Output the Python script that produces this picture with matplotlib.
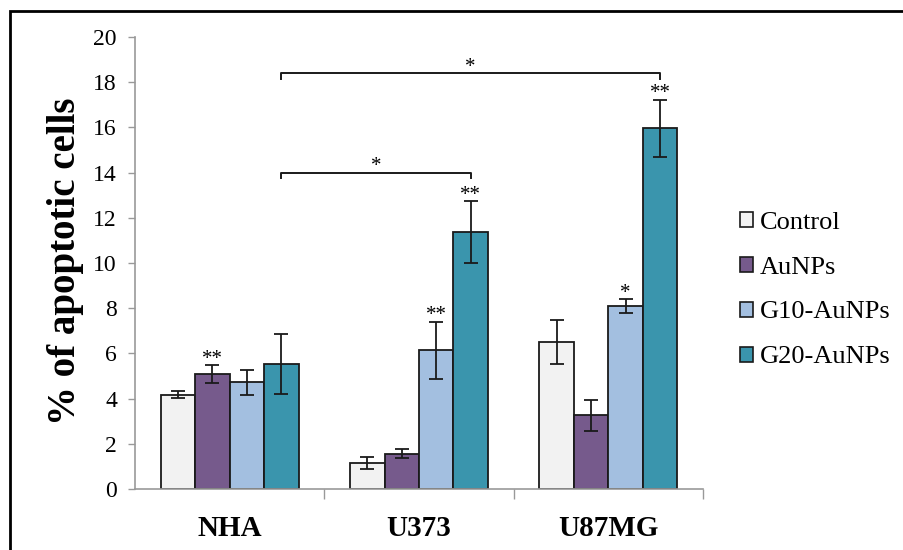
import numpy as np
import matplotlib
matplotlib.use("Agg")
import matplotlib.pyplot as plt
from matplotlib.patches import Patch, Rectangle

plt.rcParams['font.family'] = ['Liberation Serif', 'DejaVu Serif']

groups = ["NHA", "U373", "U87MG"]
series = ["Control", "AuNPs", "G10-AuNPs", "G20-AuNPs"]
colors = ["#f2f2f2", "#765a8c", "#a3bfe0", "#3a95ad"]

control = [4.17, 1.16, 6.50]
control_err = [0.15, 0.27, 0.96]
aunps = [5.07, 1.56, 3.27]
aunps_err = [0.40, 0.20, 0.69]
g10 = [4.73, 6.14, 8.10]
g10_err = [0.55, 1.27, 0.30]
g20 = [5.54, 11.36, 15.97]
g20_err = [1.33, 1.37, 1.26]

control_sig = ["", "", ""]
aunps_sig = ["**", "", ""]
g10_sig = ["", "**", "*"]
g20_sig = ["", "**", "**"]

# brackets between G20 bars: (group from, group to, height, label)
brackets = [(0, 1, 14.0, "*"), (0, 2, 18.4, "*")]

values = [control, aunps, g10, g20]
errors = [control_err, aunps_err, g10_err, g20_err]
sigs = [control_sig, aunps_sig, g10_sig, g20_sig]

fig = plt.figure(figsize=(9.04, 5.5), dpi=100)
ax = fig.add_axes([0.1493, 0.1109, 0.6284, 0.8218])

# frame around the figure (only top and left visible)
fig.patches.append(Rectangle((10 / 904, -0.1), 1.2, 1 - 11 / 550 + 0.1,
                             transform=fig.transFigure, fill=False,
                             edgecolor="black", linewidth=2))

x = np.arange(len(groups))
w = 0.182
for i, (vals, errs, sg) in enumerate(zip(values, errors, sigs)):
    pos = x + (i - 1.5) * w
    ax.bar(pos, vals, width=w, color=colors[i], edgecolor="#1a1a1a",
           linewidth=1.3, label=series[i], zorder=2)
    ax.errorbar(pos, vals, yerr=errs, fmt="none", ecolor="#1a1a1a",
                elinewidth=1.3, capsize=5, capthick=1.3, zorder=3)
    for p, v, e, s in zip(pos, vals, errs, sg):
        if s:
            ax.text(p, v + e - 0.17, s, ha="center", va="bottom", fontsize=15)

g20_x = x + 1.5 * w
for a, b, h, lab in brackets:
    xa, xb = g20_x[a], g20_x[b]
    ax.plot([xa, xa, xb, xb], [h - 0.25, h, h, h - 0.25], color="#1a1a1a",
            linewidth=1.4, zorder=3)
    ax.text((xa + xb) / 2, h - 0.17, lab, ha="center", va="bottom", fontsize=15)

ax.set_xlim(-0.5, 2.5)
ax.set_ylim(0, 20)
ax.set_yticks(np.arange(0, 21, 2))
ax.set_xticks(x)
ax.set_xticklabels(groups, fontsize=21, fontweight="bold")
ax.set_xticks([0.5, 1.5, 2.5], minor=True)
ax.tick_params(axis="x", which="major", length=0, pad=19)
ax.tick_params(axis="x", which="minor", length=7, color="#999999", width=1,
               direction="out")
ax.tick_params(axis="y", length=5, color="#999999", width=1, labelsize=17, pad=8)

for side in ["top", "right"]:
    ax.spines[side].set_visible(False)
for side in ["left", "bottom"]:
    ax.spines[side].set_color("#999999")
    ax.spines[side].set_linewidth(1.2)

ax.set_ylabel("% of apoptotic cells", fontsize=28, fontweight="bold")
ax.yaxis.set_label_coords(-0.089, 0.504)

handles = [Patch(facecolor=c, edgecolor="#1a1a1a", linewidth=1.2) for c in colors]
fig.legend(handles, series, loc="center left", bbox_to_anchor=(0.8186, 0.4727),
           bbox_transform=fig.transFigure, frameon=False, fontsize=19,
           handlelength=0.49, handleheight=0.49, handletextpad=0.27,
           labelspacing=0.87, borderpad=0, borderaxespad=0)

fig.savefig("out.png", dpi=100, facecolor="white")
